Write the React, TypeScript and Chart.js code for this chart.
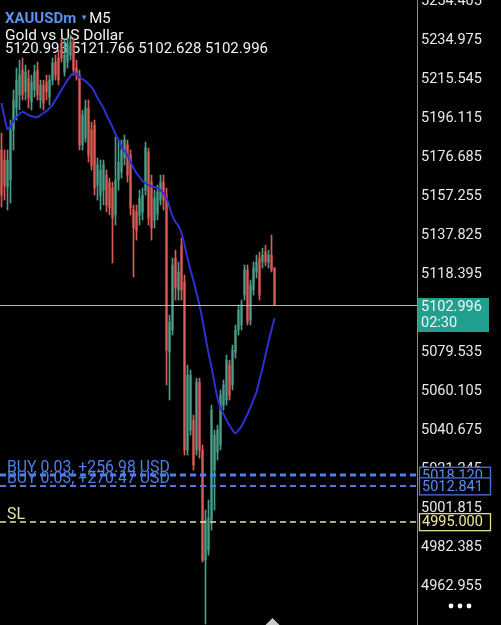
import React, { useEffect, useRef } from "react";
import { Chart, registerables } from "chart.js";
Chart.register(...registerables);

const SYMBOL = "XAUUSDm";
const TIMEFRAME = "M5";
const DESCRIPTION = "Gold vs US Dollar";
const OHLC_TEXT = "5120.993 5121.766 5102.628 5102.996";

const SLOTS = 139;

const OPEN = [
  5180.2, 5175.2, 5161.7, 5165.2, 5190.1, 5201.1, 5207.6, 5220.0, 5209.1, 5216.0,
  5204.1, 5210.1, 5220.0, 5205.1, 5212.6, 5214.0, 5206.6, 5215.0, 5224.0, 5226.0,
  5232.5, 5219.0, 5224.0, 5227.5, 5234.0, 5221.0, 5217.5, 5182.7, 5186.1, 5201.1,
  5190.1, 5192.6, 5162.7, 5157.7, 5160.2, 5167.7, 5164.2, 5161.2, 5147.8, 5165.2,
  5169.2, 5176.2, 5182.7, 5177.7, 5150.3, 5149.3, 5147.8, 5149.3, 5160.2, 5179.2,
  5164.2, 5145.3, 5148.3, 5155.2, 5164.2, 5157.7, 5079.5, 5090.5, 5126.3, 5110.4,
  5132.8, 5114.4, 5030.7, 5040.6, 5045.6, 5030.7, 5064.5, 5030.7, 4975.9, 4980.8,
  4995.8, 5020.7, 5029.7, 5033.2, 5053.1, 5055.6, 5073.0, 5063.1, 5079.5, 5090.5,
  5093.0, 5107.9, 5120.4, 5095.4, 5110.4, 5119.4, 5126.3, 5124.4, 5129.3, 5124.4,
  5127.8, 5120.993,
];
const HIGH = [
  5188.6, 5180.2, 5180.2, 5195.1, 5210.1, 5221.0, 5225.0, 5226.0, 5222.5, 5220.0,
  5217.5, 5222.5, 5224.0, 5215.0, 5215.0, 5217.5, 5217.5, 5226.0, 5227.5, 5230.0,
  5236.0, 5235.0, 5236.0, 5237.5, 5236.0, 5225.0, 5220.0, 5200.1, 5205.1, 5205.1,
  5194.1, 5195.1, 5176.2, 5175.2, 5175.2, 5170.2, 5166.2, 5164.2, 5186.6, 5185.2,
  5185.2, 5187.6, 5185.2, 5180.2, 5152.8, 5152.8, 5160.2, 5161.2, 5184.1, 5181.2,
  5167.7, 5160.2, 5162.7, 5167.7, 5167.7, 5161.2, 5097.9, 5126.3, 5130.3, 5124.4,
  5136.3, 5117.9, 5073.0, 5070.5, 5048.1, 5066.5, 5066.5, 5033.2, 5000.8, 5005.8,
  5053.1, 5040.6, 5043.1, 5060.6, 5065.6, 5078.0, 5075.5, 5083.0, 5093.0, 5102.9,
  5105.4, 5122.9, 5122.9, 5115.4, 5124.4, 5127.8, 5129.3, 5131.3, 5132.8, 5130.3,
  5137.8, 5121.766,
];
const LOW = [
  5151.8, 5155.2, 5150.3, 5153.8, 5180.2, 5195.1, 5200.1, 5205.1, 5205.1, 5201.1,
  5200.1, 5206.6, 5205.1, 5201.1, 5200.1, 5205.1, 5202.6, 5212.6, 5215.0, 5212.6,
  5224.0, 5217.0, 5221.0, 5225.0, 5217.5, 5215.0, 5180.2, 5180.2, 5184.1, 5174.2,
  5170.2, 5157.7, 5155.2, 5150.3, 5152.8, 5149.3, 5147.8, 5123.9, 5142.8, 5160.2,
  5166.2, 5172.7, 5164.2, 5147.8, 5116.9, 5135.3, 5142.8, 5145.3, 5157.7, 5142.8,
  5135.3, 5141.3, 5145.3, 5152.8, 5150.3, 5063.1, 5055.6, 5088.0, 5105.4, 5105.4,
  5105.4, 5028.2, 5028.2, 5038.1, 5020.7, 5028.2, 5026.7, 4974.9, 4944.0, 4978.3,
  4990.8, 5000.8, 5025.7, 5030.7, 5050.6, 5053.1, 5055.6, 5060.6, 5076.5, 5088.0,
  5090.5, 5105.4, 5093.0, 5093.0, 5107.9, 5116.4, 5105.4, 5121.4, 5122.4, 5121.4,
  5119.4, 5102.628,
];
const CLOSE = [
  5157.7, 5162.7, 5175.2, 5190.1, 5205.1, 5215.0, 5217.5, 5207.6, 5219.0, 5206.1,
  5214.0, 5219.0, 5207.6, 5212.6, 5203.6, 5209.1, 5215.0, 5223.5, 5217.5, 5215.0,
  5226.0, 5227.5, 5232.5, 5234.0, 5220.0, 5217.5, 5182.7, 5197.6, 5201.1, 5177.7,
  5172.7, 5161.2, 5172.7, 5170.2, 5172.7, 5152.8, 5151.3, 5146.3, 5165.2, 5174.2,
  5180.2, 5185.2, 5167.7, 5151.3, 5141.3, 5140.3, 5156.2, 5157.7, 5181.2, 5146.3,
  5141.3, 5156.2, 5159.2, 5164.2, 5155.2, 5080.5, 5094.5, 5122.9, 5111.4, 5119.4,
  5110.4, 5030.7, 5068.0, 5068.0, 5023.2, 5064.5, 5030.7, 4975.9, 4995.8, 4996.8,
  5050.6, 5038.1, 5040.6, 5058.1, 5063.1, 5075.5, 5058.1, 5080.5, 5090.5, 5100.4,
  5102.9, 5120.4, 5094.5, 5112.9, 5121.4, 5124.4, 5107.9, 5127.8, 5124.4, 5127.8,
  5120.4, 5102.996,
];
const MA = [
  5203.6, 5196.6, 5190.6, 5192.1, 5194.6, 5196.6, 5198.1, 5199.1, 5198.6, 5197.6,
  5197.1, 5196.6, 5196.6, 5197.6, 5198.6, 5199.6, 5201.1, 5202.6, 5205.1, 5207.6,
  5210.1, 5212.6, 5215.0, 5217.0, 5218.5, 5218.0, 5216.5, 5215.5, 5214.5, 5213.0,
  5211.6, 5209.1, 5206.1, 5203.6, 5201.1, 5197.6, 5194.6, 5191.6, 5188.1, 5185.2,
  5181.7, 5179.7, 5177.7, 5174.2, 5171.2, 5168.7, 5166.7, 5164.7, 5163.7, 5162.7,
  5162.2, 5161.7, 5161.2, 5160.2, 5158.7, 5156.2, 5151.8, 5147.3, 5144.3, 5142.3,
  5138.8, 5132.8, 5126.3, 5120.4, 5114.9, 5108.9, 5102.9, 5095.4, 5087.0, 5079.0,
  5072.0, 5064.0, 5056.6, 5051.6, 5048.6, 5045.6, 5043.1, 5040.6, 5039.1, 5040.6,
  5042.6, 5045.6, 5048.6, 5052.1, 5055.6, 5059.6, 5065.6, 5071.5, 5078.0, 5084.5,
  5090.5, 5096.4,
];

const Y_TICKS = [
  5254.405, 5234.975, 5215.545, 5196.115, 5176.685, 5157.255, 5137.825, 5118.395,
  5079.535, 5060.105, 5040.675, 5021.245, 5001.815, 4982.385, 4962.955,
];
const Y_MIN = 4943.525;
const Y_MAX = 5254.92;

const CURRENT_PRICE = 5102.996;
const COUNTDOWN = "02:30";
const ORDER_PRICES = [5018.12, 5012.841];
const ORDER_TEXTS = ["BUY 0.03, +256.98 USD", "BUY 0.03, +270.47 USD"];
const SL_PRICE = 4995.0;
const SL_TEXT = "SL";

const BULL = "#4a9f8b";
const BEAR = "#dc5c55";
const FONT = "Roboto";

const overlay = {
  id: "overlay",
  beforeDatasetsDraw(chart: any) {
    const ctx = chart.ctx;
    ctx.save();
    ctx.textBaseline = "alphabetic";
    ctx.textAlign = "left";
    ctx.font = `bold 15px ${FONT}`;
    ctx.fillStyle = "#5b8ff2";
    ctx.fillText(SYMBOL, 5, 23);
    const w = ctx.measureText(SYMBOL).width;
    ctx.font = `8px ${FONT}`;
    ctx.fillText("▼", 5 + w + 4, 20);
    ctx.font = `15px ${FONT}`;
    ctx.fillStyle = "#f2f2f2";
    ctx.fillText(TIMEFRAME, 5 + w + 13, 23);
    ctx.font = `15.5px ${FONT}`;
    ctx.fillText(DESCRIPTION, 5, 40);
    ctx.font = `15px ${FONT}`;
    ctx.fillText(OHLC_TEXT, 5, 53);
    ctx.restore();
  },
  afterDraw(chart: any) {
    const { ctx, chartArea } = chart;
    const y = chart.scales.y;
    const x = chart.scales.x;
    const L = chartArea.left;
    const R = chartArea.right;
    const py = (v: number) => y.getPixelForValue(v);
    ctx.save();

    // order labels on the left
    ctx.font = `15.8px ${FONT}`;
    ctx.textBaseline = "alphabetic";
    ctx.textAlign = "left";
    ORDER_PRICES.forEach((p, k) => {
      ctx.fillStyle = "#4f7fe4";
      ctx.fillText(ORDER_TEXTS[k], 7, py(p) - 3);
    });
    ctx.fillStyle = "#e9e2a0";
    ctx.fillText(SL_TEXT, 7, py(SL_PRICE) - 3);

    // current price line
    ctx.strokeStyle = "#9fc4b6";
    ctx.lineWidth = 1;
    ctx.setLineDash([]);
    const cy = Math.round(py(CURRENT_PRICE)) + 0.5;
    ctx.beginPath();
    ctx.moveTo(L, cy);
    ctx.lineTo(R, cy);
    ctx.stroke();

    // order lines
    ORDER_PRICES.forEach((p, k) => {
      ctx.strokeStyle = k === 0 ? "#4d7ef0" : "#5577d8";
      ctx.lineWidth = k === 0 ? 3 : 2;
      ctx.setLineDash([6, 4]);
      const ly = Math.round(py(p));
      ctx.beginPath();
      ctx.moveTo(L, ly);
      ctx.lineTo(R, ly);
      ctx.stroke();
    });
    // SL line
    ctx.strokeStyle = "#e9e2a0";
    ctx.lineWidth = 1.5;
    ctx.setLineDash([6, 4]);
    const sy = Math.round(py(SL_PRICE));
    ctx.beginPath();
    ctx.moveTo(L, sy);
    ctx.lineTo(R, sy);
    ctx.stroke();
    ctx.setLineDash([]);

    // price boxes on the axis
    const box = (v: number, stroke: string, text: string) => {
      const by = py(v);
      ctx.fillStyle = "#000";
      ctx.fillRect(R + 2, by - 8.5, 72, 17);
      ctx.strokeStyle = stroke;
      ctx.lineWidth = 1.3;
      ctx.strokeRect(R + 2.5, by - 8, 71, 17);
      ctx.fillStyle = text;
      ctx.font = `14.5px ${FONT}`;
      ctx.textBaseline = "middle";
      ctx.fillText(v.toFixed(3), R + 5, by + 1);
    };
    ORDER_PRICES.forEach((p) => box(p, "#4a73d6", "#5b8def"));
    box(SL_PRICE, "#e6dc94", "#efe6a0");

    // current price box
    ctx.fillStyle = "#22a08f";
    ctx.fillRect(R + 1, cy - 7.5, 71, 34);
    ctx.fillStyle = "#f4f4f4";
    ctx.font = `14.5px ${FONT}`;
    ctx.textBaseline = "middle";
    ctx.fillText(CURRENT_PRICE.toFixed(3), R + 4, cy + 2);
    ctx.fillText(COUNTDOWN, R + 4, cy + 18);

    // bottom marker under last candle
    const mx = x.getPixelForValue(CLOSE.length - 1) - 2;
    ctx.fillStyle = "#c8c8c8";
    ctx.beginPath();
    ctx.moveTo(mx, chartArea.bottom - 7);
    ctx.lineTo(mx - 7, chartArea.bottom);
    ctx.lineTo(mx + 7, chartArea.bottom);
    ctx.closePath();
    ctx.fill();

    // menu dots
    ctx.fillStyle = "#ffffff";
    [451, 460, 469].forEach((dx) => {
      ctx.beginPath();
      ctx.arc(dx, 606, 2.4, 0, Math.PI * 2);
      ctx.fill();
    });
    ctx.restore();
  },
};

export default function App() {
  const ref = useRef<HTMLCanvasElement>(null);
  useEffect(() => {
    document.body.style.margin = "0";
    document.body.style.background = "#000";
    const labels = Array.from({ length: SLOTS }, (_, i) => String(i));
    const colors = OPEN.map((o, i) => (CLOSE[i] >= o ? BULL : BEAR));
    const chart = new Chart(ref.current as HTMLCanvasElement, {
      type: "bar",
      data: {
        labels,
        datasets: [
          {
            type: "line",
            data: MA,
            borderColor: "#2f2fd6",
            borderWidth: 2,
            pointRadius: 0,
            tension: 0.35,
            order: 0,
          } as any,
          {
            type: "bar",
            data: OPEN.map((o, i) => [o, CLOSE[i]]),
            backgroundColor: colors,
            barThickness: 1.5,
            grouped: false,
            order: 1,
          } as any,
          {
            type: "bar",
            data: LOW.map((l, i) => [l, HIGH[i]]),
            backgroundColor: colors,
            barThickness: 1,
            grouped: false,
            order: 2,
          } as any,
        ],
      },
      options: {
        animation: false,
        responsive: false,
        devicePixelRatio: 1,
        layout: { padding: 0 },
        plugins: { legend: { display: false }, tooltip: { enabled: false } },
        scales: {
          x: { display: false },
          y: {
            position: "right",
            min: Y_MIN,
            max: Y_MAX,
            grid: { display: false, drawTicks: false },
            border: { display: true, color: "#8a8a8a", width: 1 },
            ticks: {
              color: "#e8e8e8",
              font: { family: FONT, size: 14.5 },
              padding: 4,
              autoSkip: false,
              callback: (v: any) => Number(v).toFixed(3),
            },
            afterBuildTicks: (s: any) => {
              s.ticks = Y_TICKS.map((v) => ({ value: v }));
            },
            afterFit: (s: any) => {
              s.width = 84;
              s.paddingTop = 0;
              s.paddingBottom = 0;
            },
          },
        },
      } as any,
      plugins: [overlay],
    });
    return () => chart.destroy();
  }, []);
  return (
    <div style={{ width: 501, height: 625, background: "#000" }}>
      <canvas ref={ref} width={501} height={625} style={{ display: "block" }} />
    </div>
  );
}
